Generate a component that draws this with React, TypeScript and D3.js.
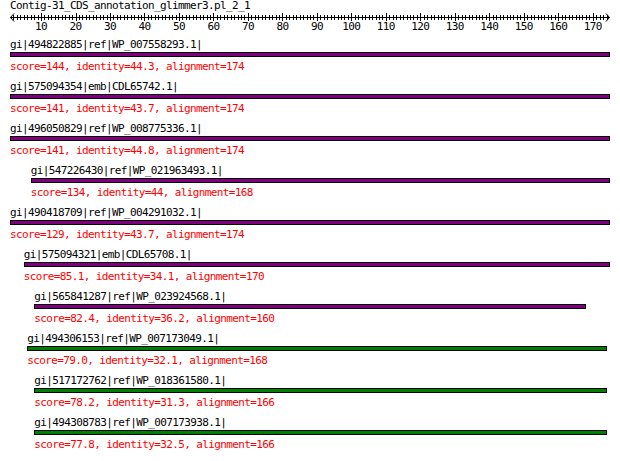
import React from "react";
import * as d3 from "d3";

const title = "Contig-31_CDS_annotation_glimmer3.pl_2_1";
const queryLength = 174;
const tickValues = [10, 20, 30, 40, 50, 60, 70, 80, 90, 100, 110, 120, 130, 140, 150, 160, 170];

const hitNames = [
  "gi|494822885|ref|WP_007558293.1|",
  "gi|575094354|emb|CDL65742.1|",
  "gi|496050829|ref|WP_008775336.1|",
  "gi|547226430|ref|WP_021963493.1|",
  "gi|490418709|ref|WP_004291032.1|",
  "gi|575094321|emb|CDL65708.1|",
  "gi|565841287|ref|WP_023924568.1|",
  "gi|494306153|ref|WP_007173049.1|",
  "gi|517172762|ref|WP_018361580.1|",
  "gi|494308783|ref|WP_007173938.1|",
];
const scores = ["144", "141", "141", "134", "129", "85.1", "82.4", "79.0", "78.2", "77.8"];
const identities = ["44.3", "43.7", "44.8", "44", "43.7", "34.1", "36.2", "32.1", "31.3", "32.5"];
const alignments = [174, 174, 174, 168, 174, 170, 160, 168, 166, 166];
const hitStarts = [1, 1, 1, 7, 1, 5, 8, 6, 8, 8];
const hitEnds = [174, 174, 174, 174, 174, 174, 167, 173, 173, 173];

const W = 620;
const H = 461;
const FONT = "'DejaVu Sans Mono', 'Liberation Mono', monospace";
const FS = 11;
const LS = -0.62;

export default function App() {
  const x = d3.scaleLinear().domain([1, queryLength + 1]).range([10, 610]);
  const axisY = 17;
  const minor = d3.range(2, queryLength + 1).filter((v) => v % 10 !== 0);
  const color = (s: string) => (parseFloat(s) >= 80 ? "#800080" : "#008000");
  const rowTop = (i: number) => 52 + 42 * i;
  const textProps = { fontFamily: FONT, fontSize: FS, letterSpacing: LS };

  return (
    <svg width={W} height={H} style={{ position: "absolute", left: 0, top: 0, background: "#fff" }}>
      <rect x={0} y={0} width={W} height={H} fill="#fff" />
      <text x={10} y={9} {...textProps} fill="#000">{title}</text>
      <g shapeRendering="crispEdges" stroke="#000" strokeWidth={1}>
        <line x1={x(1)} x2={x(queryLength + 1)} y1={axisY + 0.5} y2={axisY + 0.5} />
        {minor.map((v) => (
          <line key={v} x1={Math.round(x(v)) + 0.5} x2={Math.round(x(v)) + 0.5} y1={15} y2={20} />
        ))}
        {tickValues.map((v) => (
          <line key={v} x1={Math.round(x(v)) + 0.5} x2={Math.round(x(v)) + 0.5} y1={13} y2={21} />
        ))}
      </g>
      <g stroke="#000" strokeWidth={1} fill="none">
        <polyline points={`${x(1) + 4},${axisY - 3.5} ${x(1) + 0.5},${axisY + 0.5} ${x(1) + 4},${axisY + 4.5}`} />
        <polyline points={`${x(queryLength + 1) - 4},${axisY - 3.5} ${x(queryLength + 1) - 0.5},${axisY + 0.5} ${x(queryLength + 1) - 4},${axisY + 4.5}`} />
      </g>
      {tickValues.map((v) => (
        <text key={v} x={x(v)} y={30} textAnchor="middle" {...textProps} fill="#000">{v}</text>
      ))}
      {hitNames.map((name, i) => {
        const top = rowTop(i);
        const x0 = x(hitStarts[i]);
        const x1 = x(hitEnds[i] + 1);
        return (
          <g key={name}>
            <text x={x0} y={top - 4} {...textProps} fill="#000">{name}</text>
            <rect x={Math.round(x0) + 0.5} y={top + 0.5} width={Math.round(x1) - Math.round(x0) - 1} height={4} fill={color(scores[i])} stroke="#000" strokeWidth={1} shapeRendering="crispEdges" />
            <text x={x0} y={top + 18} {...textProps} fill="#ff0000">
              {`score=${scores[i]}, identity=${identities[i]}, alignment=${alignments[i]}`}
            </text>
          </g>
        );
      })}
    </svg>
  );
}
